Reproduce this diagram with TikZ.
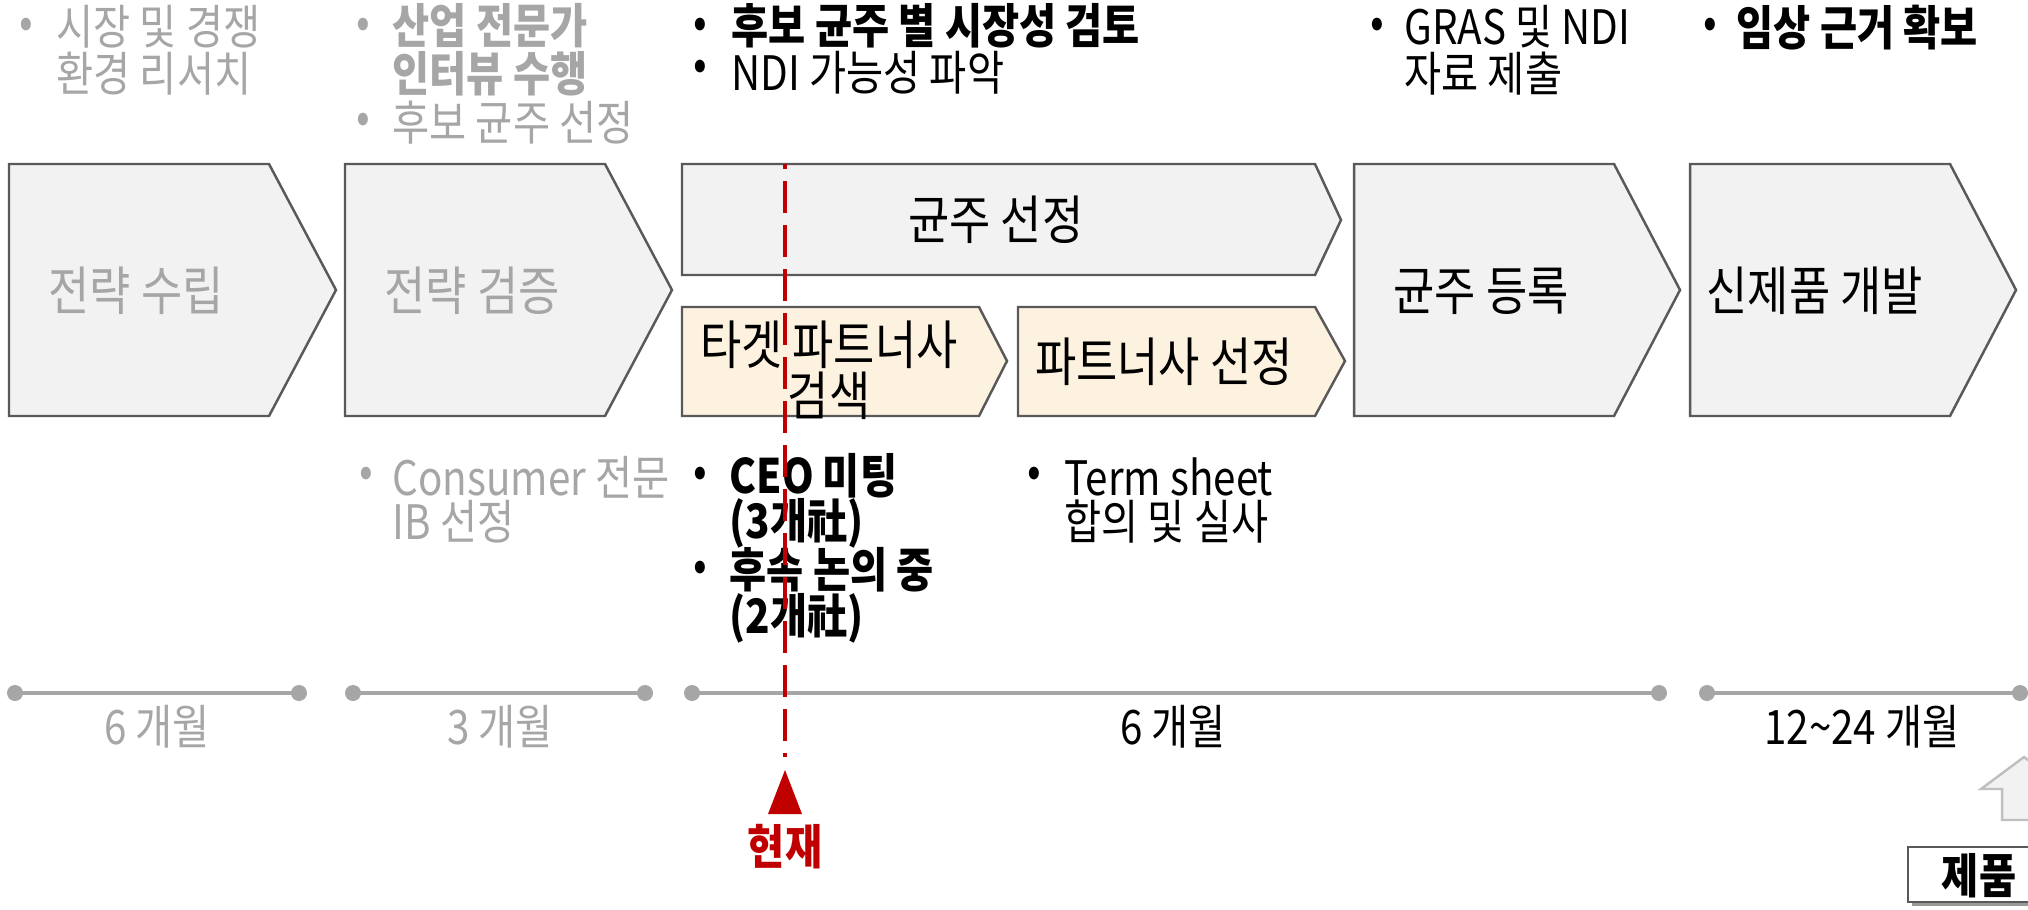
\documentclass[tikz,border=0pt]{standalone}
\usepackage{fontspec}
\setmainfont{Noto Sans CJK KR}[FakeStretch=0.85]
\definecolor{chevfill}{HTML}{F2F2F2}
\definecolor{chevline}{HTML}{595959}
\definecolor{tanfill}{HTML}{FDF1DF}
\definecolor{graytxt}{HTML}{A6A6A6}
\definecolor{tline}{HTML}{A6A6A6}
\definecolor{redc}{HTML}{C00000}
\definecolor{arrline}{HTML}{BFBFBF}
\begin{document}
\begin{tikzpicture}[x=0.01cm,y=-0.01cm,
  chev/.style={draw=chevline, fill=chevfill, line width=0.7pt, line join=miter},
  tanchev/.style={chev, fill=tanfill},
  lbl/.style={font=\fontsize{15}{14.5}\selectfont, inner sep=0pt, align=center},
  bul/.style={font=\fontsize{13.5}{12}\selectfont, inner sep=0pt},
  txt/.style={font=\fontsize{13.5}{12.2}\selectfont, inner sep=0pt, anchor=west, align=left},
  txtb/.style={txt, font=\fontsize{13.5}{12.2}\selectfont\bfseries},
  tl/.style={draw=tline, line width=1.4pt},
  tldot/.style={fill=tline, draw=none},
  tlab/.style={font=\fontsize{13.5}{12}\selectfont, inner sep=0pt}
]
\useasboundingbox (0,0) rectangle (2028,909);
\clip (0,0) rectangle (2028,909);

% ---------- chevrons ----------
\draw[chev] (9,164) -- (269,164) -- (336,290) -- (269,416) -- (9,416) -- cycle;
\draw[chev] (345,164) -- (605,164) -- (672,290) -- (605,416) -- (345,416) -- cycle;
\draw[chev] (682,164) -- (1315,164) -- (1341,220) -- (1315,275) -- (682,275) -- cycle;
\draw[tanchev] (682,307) -- (979,307) -- (1007,361) -- (979,416) -- (682,416) -- cycle;
\draw[tanchev] (1018,307) -- (1315,307) -- (1345,361) -- (1315,416) -- (1018,416) -- cycle;
\draw[chev] (1354,164) -- (1614,164) -- (1680,290) -- (1614,416) -- (1354,416) -- cycle;
\draw[chev] (1690,164) -- (1950,164) -- (2016,290) -- (1950,416) -- (1690,416) -- cycle;

\node[lbl, anchor=west, text=graytxt] (c1) at (48,291) {전략 수립};
\node[lbl, anchor=west, text=graytxt] (c2) at (384,291) {전략 검증};
\node[lbl] (c3) at (996,220) {균주 선정};
\node[lbl] (c4) at (829,370) {타겟 파트너사\\검색};
\node[lbl] (c5) at (1164,362) {파트너사 선정};
\node[lbl, anchor=west] (c6) at (1393,291) {균주 등록};
\node[lbl, anchor=west] (c7) at (1706,291) {신제품 개발};

% ---------- top bullets ----------
\node[bul, text=graytxt] (b1) at (26,28) {•};
\node[txt, text=graytxt] (t1) at (56,50) {시장 및 경쟁\\환경 리서치};

\node[bul, text=graytxt] (b2) at (363,28) {•};
\node[txtb, text=graytxt] (t2) at (392,50) {산업 전문가\\인터뷰 수행};
\node[bul, text=graytxt] (b3) at (363,123) {•};
\node[txt, text=graytxt] (t3) at (392,123) {후보 균주 선정};

\node[bul] (b4) at (700,28) {•};
\node[bul] (b5) at (700,70) {•};
\node[txt] (t4) at (731,49) {{\bfseries 후보 균주 별 시장성 검토}\\NDI 가능성 파악};

\node[bul] (b6) at (1377,28) {•};
\node[txt] (t6) at (1404,50) {GRAS 및 NDI\\자료 제출};

\node[bul] (b7) at (1710,28) {•};
\node[txtb] (t7) at (1736,28) {임상 근거 확보};

% ---------- lower bullets ----------
\node[bul, text=graytxt] (b8) at (366,477) {•};
\node[txt, text=graytxt, font=\fontsize{13.5}{12.5}\selectfont] (t8) at (392,500) {Consumer 전문\\IB 선정};

\node[bul] (b9) at (700,477) {•};
\node[txtb, font=\fontsize{13.5}{12.8}\selectfont\bfseries] (t9) at (729,501) {CEO 미팅\\(3개社)};
\node[bul] (b10) at (700,571) {•};
\node[txtb, font=\fontsize{13.5}{13.1}\selectfont\bfseries] (t10) at (729,595) {후속 논의 중\\(2개社)};

\node[bul] (b11) at (1034,477) {•};
\node[txt, font=\fontsize{13.5}{12.5}\selectfont] (t11) at (1064,500) {Term sheet\\합의 및 실사};

% ---------- timelines ----------
\coordinate (a1) at (15,693);   \coordinate (a2) at (299,693);
\coordinate (b1c) at (353,693); \coordinate (b2c) at (645,693);
\coordinate (d1) at (692,693);  \coordinate (d2) at (1659,693);
\coordinate (e1) at (1707,693); \coordinate (e2) at (2020,693);
\draw[tl] (a1) -- (a2);
\draw[tl] (b1c) -- (b2c);
\draw[tl] (d1) -- (d2);
\draw[tl] (e1) -- (e2);
\foreach \p in {a1,a2,b1c,b2c,d1,d2,e1,e2} \fill[tldot] (\p) circle (8);
\node[tlab, text=graytxt] (m1) at (157,727) {6 개월};
\node[tlab, text=graytxt] (m2) at (500,727) {3 개월};
\node[tlab] (m3) at (1173,727) {6 개월};
\node[tlab] (m4) at (1862,727) {12\char`\~24 개월};

% ---------- current marker ----------
\coordinate (rtop) at (785,164);
\coordinate (rbot) at (785,757);
\draw[redc, line width=1.15pt, dash pattern=on 0.32cm off 0.12cm, dash phase=0.27cm] (rtop) -- (rbot);
\fill[redc] (785,770) -- (802,814) -- (768,814) -- cycle;
\node[tlab, text=redc, font=\fontsize{13.5}{12}\selectfont\bfseries] (now) at (785,847) {현재};

% ---------- product arrow & box ----------
\draw[draw=arrline, fill=chevfill, line width=0.7pt, line join=miter]
  (2024,757) -- (2067,789) -- (2046,789) -- (2046,820) -- (2002,820) -- (2002,789) -- (1981,789) -- cycle;
\fill[black!40] (1912,851) rectangle (2140,906);
\draw[fill=white, draw=chevline, line width=0.7pt] (1908,847) rectangle (2136,902);
\node[tlab, font=\fontsize{13.5}{12}\selectfont\bfseries] (prod) at (1979,876) {제품};
\end{tikzpicture}
\end{document}
